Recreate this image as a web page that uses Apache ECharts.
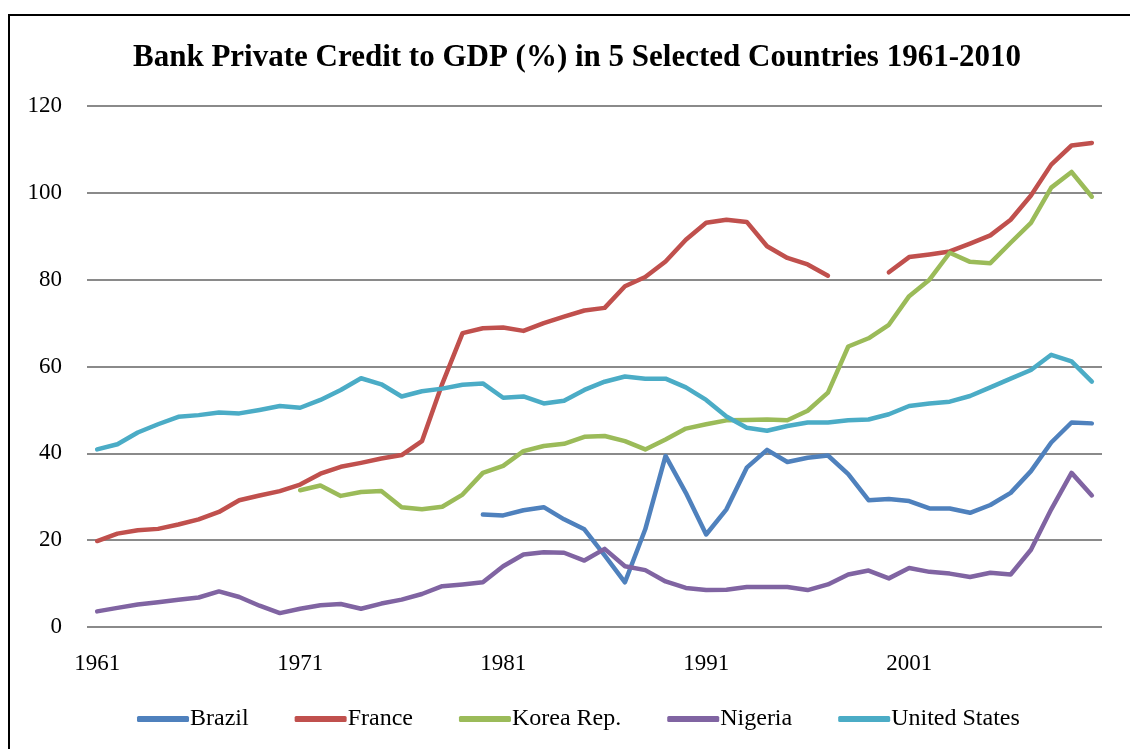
<!DOCTYPE html>
<html><head><meta charset="utf-8">
<script src="https://cdn.jsdelivr.net/npm/echarts@6/dist/echarts.min.js"></script>
<style>html,body{margin:0;padding:0;background:#fff;}#c{width:1130px;height:749px;}</style>
</head><body><div id="c"></div>
<script>
const years = [];
for (let y = 1961; y <= 2010; y++) years.push(String(y));
const brazil = [null,null,null,null,null,null,null,null,null,null,
 null,null,null,null,null,null,null,null,null,25.9,
 25.7,26.9,27.6,24.8,22.5,16.5,10.3,22.5,39.4,30.9,
 21.3,27.1,36.7,40.8,38.0,39.0,39.5,35.2,29.2,29.5,
 29.0,27.3,27.3,26.3,28.1,30.9,35.9,42.5,47.1,46.9];
const france = [19.8,21.5,22.3,22.6,23.6,24.8,26.5,29.2,30.3,31.3,
 32.8,35.3,36.9,37.8,38.8,39.6,42.8,56.0,67.7,68.8,
 69.0,68.2,70.0,71.5,72.9,73.5,78.5,80.6,84.2,89.2,
 93.1,93.8,93.3,87.7,85.0,83.5,80.9,null,null,81.7,
 85.2,85.8,86.5,88.3,90.2,93.8,99.4,106.5,110.9,111.5];
const korea = [null,null,null,null,null,null,null,null,null,null,
 31.5,32.6,30.2,31.1,31.3,27.6,27.1,27.7,30.5,35.5,
 37.1,40.5,41.7,42.2,43.8,44.0,42.8,40.9,43.2,45.7,
 46.7,47.6,47.7,47.8,47.6,49.8,54.0,64.6,66.5,69.6,
 76.2,80.0,86.2,84.1,83.8,88.5,93.1,101.2,104.8,99.1];
const nigeria = [3.6,4.4,5.2,5.7,6.3,6.8,8.2,6.9,4.9,3.2,
 4.2,5.0,5.3,4.2,5.4,6.3,7.6,9.4,9.8,10.3,
 14.0,16.7,17.2,17.1,15.3,18.0,14.0,13.1,10.5,9.0,
 8.5,8.6,9.2,9.2,9.2,8.5,9.8,12.1,13.0,11.2,
 13.6,12.7,12.3,11.5,12.5,12.1,17.8,27.1,35.5,30.3];
const us = [40.9,42.1,44.8,46.7,48.4,48.8,49.4,49.2,50.0,50.9,
 50.5,52.3,54.6,57.3,55.9,53.1,54.3,54.9,55.8,56.1,
 52.8,53.1,51.5,52.1,54.6,56.5,57.7,57.2,57.2,55.2,
 52.3,48.5,45.9,45.2,46.3,47.1,47.1,47.6,47.8,49.0,
 50.9,51.5,51.9,53.2,55.2,57.2,59.2,62.7,61.2,56.5];
const seriesNames = ['Brazil','France','Korea Rep.','Nigeria','United States'];
const seriesData = [brazil, france, korea, nigeria, us];
const colors = ['#4F81BD','#C0504D','#9BBB59','#8064A2','#4BACC6'];
const titleText = 'Bank Private Credit to GDP (%) in 5 Selected Countries 1961-2010';
const FONT = '"Liberation Serif", "DejaVu Serif", serif';

const chart = echarts.init(document.getElementById('c'));
chart.setOption({
  backgroundColor: '#fff',
  animation: false,
  graphic: [{type:'rect', shape:{x:9, y:15, width:1140, height:760}, style:{fill:'none', stroke:'#000', lineWidth:2}, z:-1}],
  title: {text: titleText, left: 133, top: 42, padding: 0,
    textStyle:{fontFamily: FONT, fontWeight:'bold', fontSize: 31, color:'#000'}},
  color: colors,
  grid: {left: 87, right: 28, top: 106, bottom: 122},
  legend: {
    bottom: 18, left: 137, itemWidth: 52, itemHeight: 6, itemGap: 46,
    padding: 0,
    icon: 'roundRect',
    textStyle: {fontFamily: FONT, fontSize: 24, color:'#000', padding:[0,0,0,-4]},
    data: seriesNames
  },
  xAxis: {
    type: 'category', data: years, boundaryGap: true,
    axisLine: {show:false}, axisTick: {show:false},
    axisLabel: {interval: 9, fontFamily: FONT, fontSize: 23, color:'#000', margin: 25}
  },
  yAxis: {
    type: 'value', min: 0, max: 120, interval: 20,
    axisLine: {show:false}, axisTick: {show:false},
    splitLine: {lineStyle: {color:'#8a8a8a', width: 2}},
    axisLabel: {fontFamily: FONT, fontSize: 23, color:'#000', margin: 25}
  },
  series: seriesData.map((d, i) => ({
    name: seriesNames[i], type: 'line', data: d, showSymbol: false, symbol: 'none',
    connectNulls: false,
    lineStyle: {width: 4.5, color: colors[i], cap: 'round', join: 'round'},
    itemStyle: {color: colors[i]}
  }))
});
</script></body></html>
